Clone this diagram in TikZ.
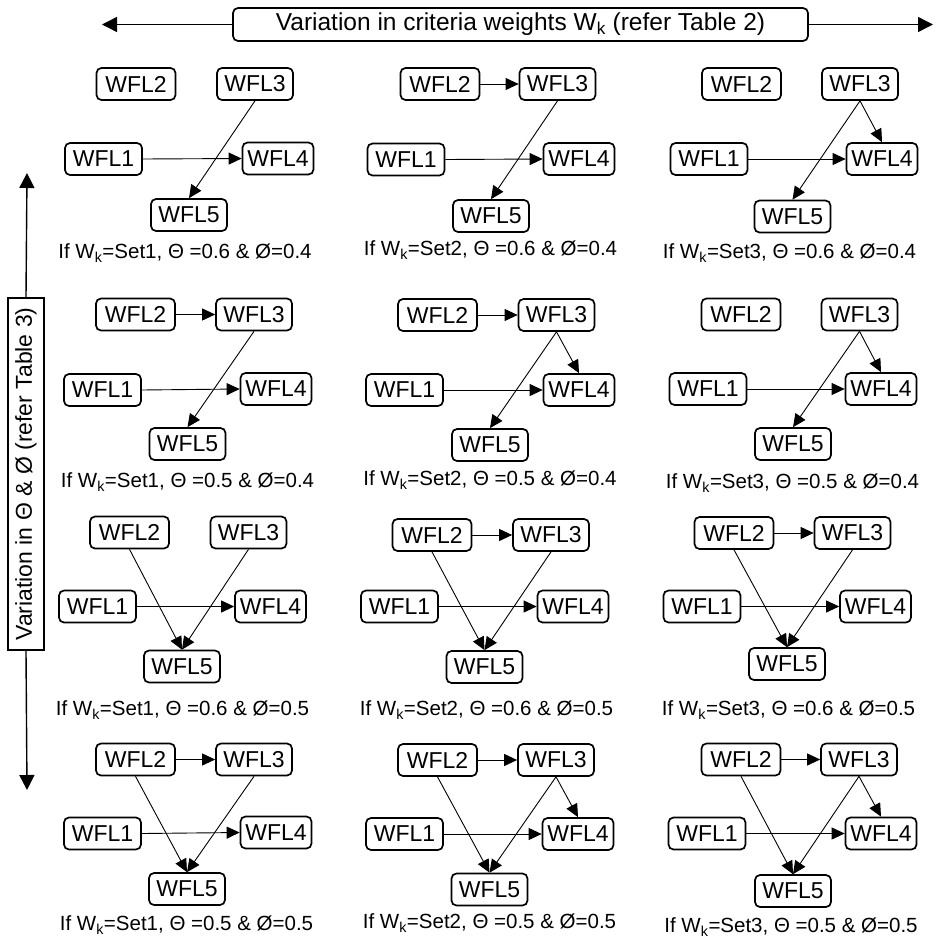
\documentclass[tikz,border=0pt]{standalone}
\usepackage{fontspec}
\setmainfont{Liberation Sans}
\usetikzlibrary{arrows.meta}
\tikzset{
  wbox/.style={draw, line width=1.7pt, rounded corners=5pt, minimum height=32pt,
    inner xsep=0pt, inner ysep=0pt, font=\fontsize{23}{25}\selectfont},
  wa/.style={wbox, minimum width=77pt},
  wb/.style={wbox, minimum width=79pt},
  wc/.style={wbox, minimum width=76pt},
  wd/.style={wbox, minimum width=71pt},
  we/.style={wbox, minimum width=76pt},
  edge/.style={-{Triangle[length=13pt,width=12pt]}, line width=0.9pt},
  bigarrow/.style={-{Triangle[length=15pt,width=15pt]}, line width=1.4pt},
  capt/.style={font=\fontsize{20.5}{24}\selectfont, inner sep=0pt},
}
\newcommand{\wk}{W\textsubscript{k}}
\begin{document}
\begin{tikzpicture}[x=1pt,y=-1pt]
\useasboundingbox (0,0) rectangle (934,942);

% header
\node[draw, line width=1.7pt, rounded corners=5pt, minimum width=575pt, minimum height=33pt,
  inner sep=0pt, font=\fontsize{24.5}{26}\selectfont] (title) at (520.5,24.5)
  {Variation in criteria weights \wk\ (refer Table 2)};
\coordinate (tl) at (102,24.5);
\coordinate (tr) at (933,24.5);
\draw[bigarrow] (title.west) -- (tl);
\draw[bigarrow] (title.east) -- (tr);

% side
\node[draw, line width=1.7pt, rotate=90, minimum width=352pt, minimum height=36pt,
  inner sep=0pt, font=\fontsize{23}{25}\selectfont] (side) at (26,474)
  {Variation in Θ \& Ø (refer Table 3)};
\coordinate (vu) at (27,173);
\coordinate (vd) at (27,790);
\draw[bigarrow] (side.east) -- (vu);
\draw[bigarrow] (side.west) -- (vd);

% ---------- row 1 ----------
\node[wb] (a2) at (136,84) {WFL2};
\node[wc] (a3) at (255,84) {WFL3};
\node[wa] (a1) at (103.5,159) {WFL1};
\node[wd] (a4) at (278,158.5) {WFL4};
\node[we] (a5) at (189,215) {WFL5};
\node[capt] (ac) at (185,253) {If \wk=Set1, Θ =0.6 \& Ø=0.4};
\draw[edge] (a1.east) -- (a4.west);
\draw[edge] (a3.south) -- (a5.north);

\node[wb] (b2) at (440,84) {WFL2};
\node[wc] (b3) at (557.5,84) {WFL3};
\node[wa] (b1) at (406,159.5) {WFL1};
\node[wd] (b4) at (579,159) {WFL4};
\node[we] (b5) at (491,216) {WFL5};
\node[capt] (bc) at (490.5,250) {If \wk=Set2, Θ =0.6 \& Ø=0.4};
\draw[edge] (b2.east) -- (b3.west);
\draw[edge] (b1.east) -- (b4.west);
\draw[edge] (b3.south) -- (b5.north);

\node[wb] (c2) at (741.5,84) {WFL2};
\node[wc] (c3) at (860,84) {WFL3};
\node[wa] (c1) at (709,159) {WFL1};
\node[wd] (c4) at (882,159) {WFL4};
\node[we] (c5) at (792.5,216.5) {WFL5};
\node[capt] (cc) at (789.5,253) {If \wk=Set3, Θ =0.6 \& Ø=0.4};
\draw[edge] (c1.east) -- (c4.west);
\draw[edge] (c3.south) -- (c5.north);
\draw[edge] (c3.south) -- (c4.north);

% ---------- row 2 ----------
\node[wb] (d2) at (135.5,314.5) {WFL2};
\node[wc] (d3) at (254,314.5) {WFL3};
\node[wa] (d1) at (102.5,390) {WFL1};
\node[wd] (d4) at (276,389) {WFL4};
\node[we] (d5) at (187.5,444) {WFL5};
\node[capt] (dc) at (187.5,482) {If \wk=Set1, Θ =0.5 \& Ø=0.4};
\draw[edge] (d2.east) -- (d3.west);
\draw[edge] (d1.east) -- (d4.west);
\draw[edge] (d3.south) -- (d5.north);

\node[wb] (e2) at (437.5,315) {WFL2};
\node[wc] (e3) at (556.5,315) {WFL3};
\node[wa] (e1) at (404.5,390) {WFL1};
\node[wd] (e4) at (579,390) {WFL4};
\node[we] (e5) at (490,445) {WFL5};
\node[capt] (ec) at (490,480) {If \wk=Set2, Θ =0.5 \& Ø=0.4};
\draw[edge] (e2.east) -- (e3.west);
\draw[edge] (e1.east) -- (e4.west);
\draw[edge] (e3.south) -- (e5.north);
\draw[edge] (e3.south) -- (e4.north);

\node[wb] (f2) at (741,314.5) {WFL2};
\node[wc] (f3) at (859.5,314.5) {WFL3};
\node[wa] (f1) at (708,389) {WFL1};
\node[wd] (f4) at (881,389) {WFL4};
\node[we] (f5) at (793,444) {WFL5};
\node[capt] (fc) at (792.5,483) {If \wk=Set3, Θ =0.5 \& Ø=0.4};
\draw[edge] (f1.east) -- (f4.west);
\draw[edge] (f3.south) -- (f5.north);
\draw[edge] (f3.south) -- (f4.north);

% ---------- row 3 ----------
\node[wb] (g2) at (129.5,532.5) {WFL2};
\node[wc] (g3) at (248.5,532.5) {WFL3};
\node[wa] (g1) at (97.5,606.5) {WFL1};
\node[wd] (g4) at (270.5,606.5) {WFL4};
\node[we] (g5) at (182,666.5) {WFL5};
\node[capt] (gc) at (182.5,710) {If \wk=Set1, Θ =0.6 \& Ø=0.5};
\draw[edge] (g1.east) -- (g4.west);
\draw[edge] (g2.south) -- (g5.north);
\draw[edge] (g3.south) -- (g5.north);

\node[wb] (h2) at (432,535) {WFL2};
\node[wc] (h3) at (551,535) {WFL3};
\node[wa] (h1) at (399.5,606.5) {WFL1};
\node[wd] (h4) at (573,606.5) {WFL4};
\node[we] (h5) at (484.5,667) {WFL5};
\node[capt] (hc) at (486.5,710) {If \wk=Set2, Θ =0.6 \& Ø=0.5};
\draw[edge] (h2.east) -- (h3.west);
\draw[edge] (h1.east) -- (h4.west);
\draw[edge] (h2.south) -- (h5.north);
\draw[edge] (h3.south) -- (h5.north);

\node[wb] (i2) at (734,533) {WFL2};
\node[wc] (i3) at (852.5,533) {WFL3};
\node[wa] (i1) at (702,606.5) {WFL1};
\node[wd] (i4) at (875.5,606.5) {WFL4};
\node[we] (i5) at (787,664) {WFL5};
\node[capt] (ic) at (788.5,710) {If \wk=Set3, Θ =0.6 \& Ø=0.5};
\draw[edge] (i2.east) -- (i3.west);
\draw[edge] (i1.east) -- (i4.west);
\draw[edge] (i2.south) -- (i5.north);
\draw[edge] (i3.south) -- (i5.north);

% ---------- row 4 ----------
\node[wb] (j2) at (135.5,759.5) {WFL2};
\node[wc] (j3) at (254,759.5) {WFL3};
\node[wa] (j1) at (102.5,833.5) {WFL1};
\node[wd] (j4) at (276,832.5) {WFL4};
\node[we] (j5) at (187,889) {WFL5};
\node[capt] (jc) at (186.5,925) {If \wk=Set1, Θ =0.5 \& Ø=0.5};
\draw[edge] (j2.east) -- (j3.west);
\draw[edge] (j1.east) -- (j4.west);
\draw[edge] (j2.south) -- (j5.north);
\draw[edge] (j3.south) -- (j5.north);

\node[wb] (k2) at (437.5,760) {WFL2};
\node[wc] (k3) at (556,760) {WFL3};
\node[wa] (k1) at (404.5,834) {WFL1};
\node[wd] (k4) at (578,834) {WFL4};
\node[we] (k5) at (489.5,889.5) {WFL5};
\node[capt] (kc) at (489.5,923) {If \wk=Set2, Θ =0.5 \& Ø=0.5};
\draw[edge] (k2.east) -- (k3.west);
\draw[edge] (k1.east) -- (k4.west);
\draw[edge] (k2.south) -- (k5.north);
\draw[edge] (k3.south) -- (k5.north);
\draw[edge] (k3.south) -- (k4.north);

\node[wb] (l2) at (741,759.5) {WFL2};
\node[wc] (l3) at (859,759.5) {WFL3};
\node[wa] (l1) at (707,833.5) {WFL1};
\node[wd] (l4) at (881,833.5) {WFL4};
\node[we] (l5) at (793,891) {WFL5};
\node[capt] (lc) at (791,927) {If \wk=Set3, Θ =0.5 \& Ø=0.5};
\draw[edge] (l2.east) -- (l3.west);
\draw[edge] (l1.east) -- (l4.west);
\draw[edge] (l2.south) -- (l5.north);
\draw[edge] (l3.south) -- (l5.north);
\draw[edge] (l3.south) -- (l4.north);
\end{tikzpicture}
\end{document}
